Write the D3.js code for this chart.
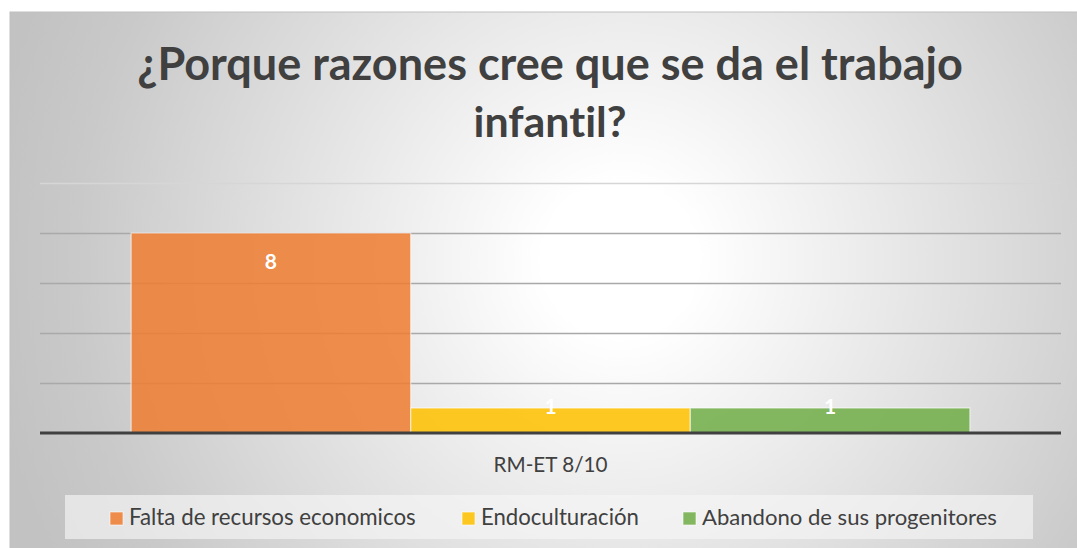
<!DOCTYPE html>
<html>
<head>
<meta charset="utf-8">
<script src="https://cdn.jsdelivr.net/npm/d3@7"></script>
<style>
  body { margin: 0; background: #fff; }
  svg { display: block; }
  text { font-family: Lato, "Open Sans", sans-serif; font-variant-ligatures: none; }
</style>
</head>
<body>
<svg class="chart"></svg>
<script>
// data
const category = ["RM-ET 8/10"]
const series = ["Falta de recursos economicos", "Endoculturación", "Abandono de sus progenitores"]
const values = [8, 1, 1]
const colors = ["#ED7D31", "#FFC000", "#70AD47"]
const yTicks = [0, 2, 4, 6, 8, 10]
const titleLines = ["¿Porque razones cree que se da el trabajo", "infantil?"]

const width = 1077, height = 548
const plot = { left: 40, right: 1061, top: 183, bottom: 433 }

const svg = d3.select(".chart").attr("width", width).attr("height", height)

// shrink or grow a text so it takes the wanted width
function fit(sel, w) {
  const fs = parseFloat(sel.attr("font-size"))
  const cur = sel.node().getComputedTextLength()
  sel.attr("font-size", fs * w / cur)
}

// background with radial gradient
const defs = svg.append("defs")
const grad = defs.append("radialGradient")
  .attr("id", "bg")
  .attr("gradientUnits", "userSpaceOnUse")
  .attr("cx", 620).attr("cy", 260).attr("r", 640)
grad.append("stop").attr("offset", 0.12).attr("stop-color", "#ffffff")
grad.append("stop").attr("offset", 0.85).attr("stop-color", "#c9c9c9")
grad.append("stop").attr("offset", 1).attr("stop-color", "#c2c2c2")

svg.append("rect")
  .attr("x", 10).attr("y", 12)
  .attr("width", width).attr("height", height)
  .attr("fill", "url(#bg)")
  .attr("stroke", "#bfbfbf")

// scales
const y = d3.scaleLinear().domain([0, 10]).range([plot.bottom, plot.top])
const x0 = d3.scaleBand().domain(category).range([plot.left, plot.right])
  .paddingInner(0.098).paddingOuter(0.098)
const x1 = d3.scaleBand().domain(series).range([0, x0.bandwidth()])
const color = d3.scaleOrdinal().domain(series).range(colors)

// gridlines
svg.append("g")
  .selectAll("line")
  .data(yTicks.filter(d => d > 0))
  .enter().append("line")
    .attr("x1", plot.left).attr("x2", plot.right)
    .attr("y1", d => Math.round(y(d)) + 0.5)
    .attr("y2", d => Math.round(y(d)) + 0.5)
    .attr("stroke", d => d == 10 ? "#d6d6d6" : "#a9a9a9")
    .attr("stroke-width", 1.3)

// bars
const g = svg.append("g").attr("transform", `translate(${x0(category[0])},0)`)
g.selectAll("rect")
  .data(series)
  .enter().append("rect")
    .attr("x", d => x1(d))
    .attr("y", (d, i) => y(values[i]))
    .attr("width", x1.bandwidth())
    .attr("height", (d, i) => y(0) - y(values[i]))
    .attr("fill", d => color(d))
    .attr("fill-opacity", 0.86)
    .attr("stroke", "#ffffff")
    .attr("stroke-opacity", 0.6)
    .attr("stroke-width", 1.2)

// data labels (white, inside end)
g.selectAll("text")
  .data(series)
  .enter().append("text")
    .attr("x", d => x1(d) + x1.bandwidth() / 2)
    .attr("y", (d, i) => Math.min(y(values[i]) + 29, y(0) - 26))
    .attr("dy", "0.35em")
    .attr("text-anchor", "middle")
    .attr("font-size", 21)
    .attr("font-weight", "bold")
    .attr("fill", "#ffffff")
    .text((d, i) => values[i])

// x axis line
svg.append("line")
  .attr("x1", plot.left).attr("x2", plot.right)
  .attr("y1", y(0)).attr("y2", y(0))
  .attr("stroke", "#404040")
  .attr("stroke-width", 3)

// category label
const cat = svg.append("text")
  .attr("x", x0(category[0]) + x0.bandwidth() / 2)
  .attr("y", 472)
  .attr("text-anchor", "middle")
  .attr("font-size", 20)
  .attr("fill", "#404040")
  .text(category[0])
fit(cat, 114)

// title
const titleW = [826, 153]
titleLines.forEach((t, i) => {
  const tt = svg.append("text")
    .attr("x", 550)
    .attr("y", 80 + i * 57)
    .attr("text-anchor", "middle")
    .attr("font-size", 42)
    .attr("font-weight", "bold")
    .attr("fill", "#404040")
    .text(t)
  fit(tt, titleW[i])
})

// legend
svg.append("rect")
  .attr("x", 65).attr("y", 495)
  .attr("width", 968).attr("height", 44)
  .attr("fill", "#f6f6f6")
  .attr("fill-opacity", 0.65)

const legX = [110, 462, 683]
const legW = [287, 158, 295]
const leg = svg.append("g")
  .selectAll("g")
  .data(series)
  .enter().append("g")
    .attr("transform", (d, i) => `translate(${legX[i]},512)`)
leg.append("rect")
  .attr("width", 13).attr("height", 13)
  .attr("fill", d => color(d))
  .attr("fill-opacity", 0.86)
  .attr("stroke", "#ffffff")
  .attr("stroke-opacity", 0.6)
leg.append("text")
  .attr("x", 19)
  .attr("y", 13)
  .attr("font-size", 20)
  .attr("fill", "#404040")
  .text(d => d)
  .each(function(d, i) { fit(d3.select(this), legW[i]) })
</script>
</body>
</html>
